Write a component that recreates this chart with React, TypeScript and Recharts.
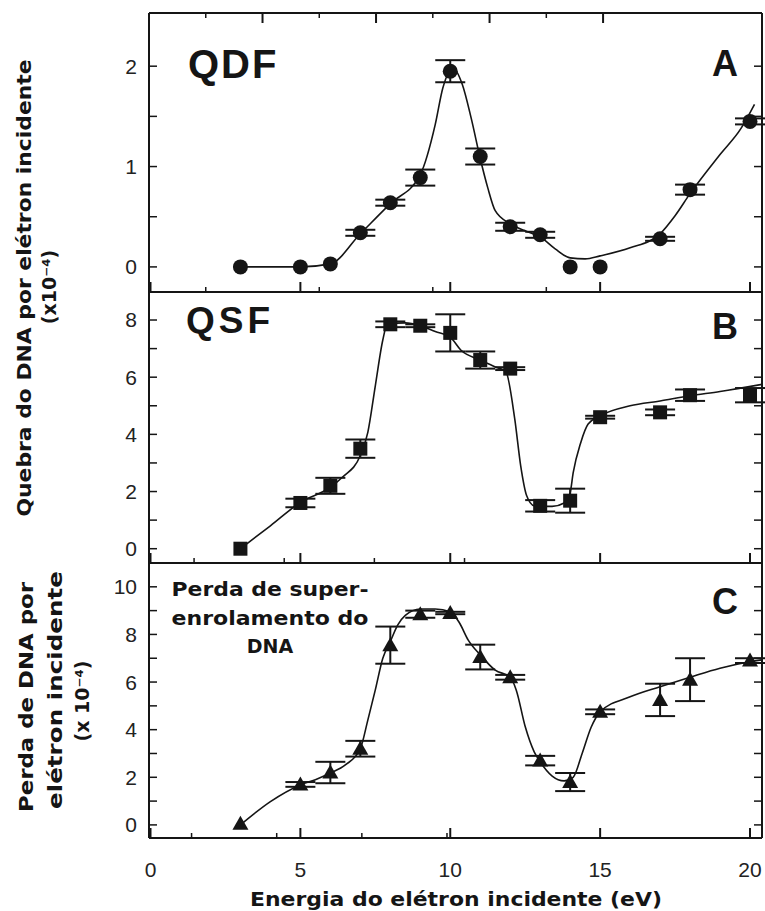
import React from "react";
import { ComposedChart, Line, Scatter, ErrorBar, XAxis, YAxis } from "recharts";

// Measured energies (eV) shared by the three panels
const ENERGY = [3, 5, 6, 7, 8, 9, 10, 11, 12, 13, 14, 15, 17, 18, 20];

// A: double strand breaks (x10^-4 per electron)
const QDF = [0, 0, 0.03, 0.34, 0.64, 0.89, 1.95, 1.1, 0.4, 0.32, 0, 0, 0.28, 0.77, 1.45];
const QDF_ERR = [0, 0, 0, 0.03, 0.03, 0.08, 0.11, 0.08, 0.04, 0.03, 0, 0, 0.02, 0.05, 0.03];

// B: single strand breaks
const QSF = [0, 1.6, 2.2, 3.5, 7.85, 7.8, 7.55, 6.6, 6.3, 1.5, 1.68, 4.6, 4.77, 5.37, 5.37];
const QSF_ERR = [0, 0.15, 0.28, 0.32, 0.1, 0.05, 0.65, 0.3, 0.05, 0.2, 0.42, 0.05, 0.1, 0.2, 0.25];

// C: loss of supercoiled DNA
const SUPER = [0.05, 1.7, 2.2, 3.2, 7.55, 8.85, 8.9, 7.05, 6.2, 2.7, 1.8, 4.75, 5.25, 6.1, 6.9];
const SUPER_ERR = [0, 0.1, 0.45, 0.33, 0.78, 0.15, 0.05, 0.52, 0.1, 0.2, 0.38, 0.1, 0.68, 0.9, 0.1];

// hand-drawn guide curves through each panel
const FIT_A_E = [3, 5, 6, 7, 8, 9, 9.5, 9.75, 10.1, 10.4, 10.7, 11, 11.25, 11.5, 12, 12.5, 13, 13.5, 14, 14.5, 15, 16, 17, 17.5, 18, 19, 19.7, 20.15];
const FIT_A = [0, 0, 0.03, 0.33, 0.63, 0.92, 1.42, 1.78, 1.98, 1.82, 1.48, 1.08, 0.79, 0.56, 0.43, 0.36, 0.3, 0.18, 0.09, 0.08, 0.11, 0.19, 0.33, 0.51, 0.73, 1.12, 1.38, 1.62];

const FIT_B_E = [3, 4, 5, 6, 6.4, 7, 7.25, 7.5, 7.75, 7.9, 8.5, 9, 9.5, 10, 10.35, 11, 11.5, 11.85, 12.15, 12.35, 12.55, 12.8, 13, 13.4, 13.8, 14, 14.1, 14.35, 14.6, 15, 16, 17, 18, 19, 20.4];
const FIT_B = [0, 0.8, 1.62, 2.15, 2.5, 3.26, 4.07, 5.7, 7.3, 7.85, 7.9, 7.8, 7.6, 7.4, 6.95, 6.6, 6.36, 6.2, 4.55, 2.9, 1.85, 1.5, 1.48, 1.48, 1.6, 1.96, 2.65, 3.7, 4.36, 4.65, 5.0, 5.17, 5.35, 5.5, 5.75];

const FIT_C_E = [3, 4, 5, 5.5, 6, 6.5, 7, 7.25, 7.5, 7.75, 8, 8.25, 8.5, 9, 9.5, 10, 10.3, 10.6, 11, 11.5, 12, 12.2, 12.5, 12.8, 13, 13.4, 13.8, 14.1, 14.4, 14.7, 15, 16, 17, 18, 19, 20, 20.4];
const FIT_C = [0, 0.98, 1.68, 1.9, 2.18, 2.52, 3.2, 4.4, 5.67, 7.0, 7.7, 8.4, 8.8, 9.07, 9.07, 8.95, 8.5, 7.76, 7.14, 6.5, 6.2, 5.67, 4.13, 3.07, 2.65, 2.05, 1.85, 2.0, 3.0, 4.1, 4.75, 5.38, 5.8, 6.2, 6.58, 6.85, 6.93];

const X_MAJOR = [0, 5, 10, 15, 20];
const X_MINOR = [2.5, 7.5, 12.5, 17.5];

const INK = "#151515";
const W = 765;
const H = 911;

const toRows = (xs: number[], ys: number[], errs?: number[]) =>
  xs.map((x, i) => ({ x, y: ys[i], err: errs ? errs[i] : 0 }));

const circle = (p: any) => <circle cx={p.cx} cy={p.cy} r={7.5} fill={INK} />;
const square = (p: any) => <rect x={p.cx - 7} y={p.cy - 7} width={14} height={14} fill={INK} />;
const triangle = (p: any) => (
  <path d={`M${p.cx - 8},${p.cy + 6} L${p.cx + 8},${p.cy + 6} L${p.cx},${p.cy - 8} Z`} fill={INK} />
);

const tickFont = { fill: "#222", fontSize: 21, fontFamily: "'Liberation Sans', Arial, sans-serif" };
const blank = () => "";

interface PanelProps {
  top: number;
  bottom: number;
  domain: [number, number];
  yTicks: number[];
  yLabels: number[];
  fit: { x: number; y: number }[];
  points: { x: number; y: number; err: number }[];
  marker: (p: any) => React.ReactElement;
  topAxis?: boolean;
  xLabels?: boolean;
}

// Each panel is its own full-page chart; margins place the plot box.
// Axes get a 1px thickness (zero-sized axes are skipped by recharts).
function Panel({ top, bottom, domain, yTicks, yLabels, fit, points, marker, topAxis, xLabels }: PanelProps) {
  const xDomain: [number, number] = [-0.05, 20.4];
  const axisStroke = { stroke: INK, strokeWidth: 2 };
  const minorStroke = { stroke: INK, strokeWidth: 1.5 };
  const margin = {
    top: topAxis ? top - 2 : top,
    right: 2,
    bottom: H - bottom - 2,
    left: 148,
  };
  return (
    <div style={{ position: "absolute", left: 0, top: 0 }}>
      <ComposedChart width={W} height={H} data={fit} margin={margin}>
        <XAxis
          xAxisId="x"
          type="number"
          dataKey="x"
          domain={xDomain}
          allowDataOverflow
          ticks={X_MAJOR}
          interval={0}
          height={1}
          tickSize={-10}
          tickMargin={34}
          axisLine={axisStroke}
          tickLine={axisStroke}
          tick={tickFont}
          tickFormatter={xLabels ? (v: number) => String(v) : blank}
        />
        <XAxis
          xAxisId="xm"
          type="number"
          domain={xDomain}
          allowDataOverflow
          ticks={X_MINOR}
          interval={0}
          height={1}
          tickSize={-6}
          axisLine={false}
          tickLine={minorStroke}
          tickFormatter={blank}
        />
        {topAxis && (
          <XAxis
            xAxisId="xt"
            orientation="top"
            type="number"
            domain={xDomain}
            allowDataOverflow
            ticks={X_MAJOR}
            interval={0}
            height={1}
            tickSize={-10}
            axisLine={axisStroke}
            tickLine={axisStroke}
            tickFormatter={blank}
          />
        )}
        {topAxis && (
          <XAxis
            xAxisId="xtm"
            orientation="top"
            type="number"
            domain={xDomain}
            allowDataOverflow
            ticks={X_MINOR}
            interval={0}
            height={1}
            tickSize={-6}
            axisLine={false}
            tickLine={minorStroke}
            tickFormatter={blank}
          />
        )}
        <YAxis
          yAxisId="y"
          type="number"
          domain={domain}
          allowDataOverflow
          ticks={yTicks}
          interval={0}
          width={1}
          tickSize={-8}
          tickMargin={20}
          axisLine={axisStroke}
          tickLine={minorStroke}
          tick={tickFont}
          tickFormatter={(v: number) => (yLabels.includes(v) ? String(v) : "")}
        />
        <YAxis
          yAxisId="yr"
          orientation="right"
          type="number"
          domain={domain}
          allowDataOverflow
          ticks={yTicks}
          interval={0}
          width={1}
          tickSize={-8}
          axisLine={axisStroke}
          tickLine={minorStroke}
          tickFormatter={blank}
        />
        <Line
          xAxisId="x"
          yAxisId="y"
          dataKey="y"
          type="monotone"
          stroke={INK}
          strokeWidth={1.6}
          dot={false}
          activeDot={false}
          isAnimationActive={false}
        />
        <Scatter xAxisId="x" yAxisId="y" data={points} dataKey="y" shape={marker} isAnimationActive={false}>
          <ErrorBar dataKey="err" direction="y" width={15} stroke={INK} strokeWidth={2} isAnimationActive={false} />
        </Scatter>
      </ComposedChart>
    </div>
  );
}

const boldSans = "'DejaVu Sans', Verdana, sans-serif";
const arialBold = "'Liberation Sans', Arial, sans-serif";

function Labels() {
  return (
    <svg width={W} height={H} style={{ position: "absolute", left: 0, top: 0, pointerEvents: "none" }}>
      <g fill={INK} fontWeight="bold">
        <text x={188} y={78} fontSize={40} fontFamily={arialBold} letterSpacing={2}>QDF</text>
        <text x={738} y={76} fontSize={36} fontFamily={arialBold} textAnchor="end">A</text>
        <text x={186} y={333} fontSize={37} fontFamily={arialBold} letterSpacing={4}>QSF</text>
        <text x={738} y={339} fontSize={36} fontFamily={arialBold} textAnchor="end">B</text>
        <text x={738} y={614} fontSize={36} fontFamily={arialBold} textAnchor="end">C</text>

        <g fontFamily={boldSans} fontSize={19} textAnchor="middle">
          <text x={270} y={596} textLength={197} lengthAdjust="spacingAndGlyphs">Perda de super-</text>
          <text x={270} y={625} textLength={197} lengthAdjust="spacingAndGlyphs">enrolamento do</text>
          <text x={270} y={653}>DNA</text>
        </g>

        <g fontFamily={boldSans} fontSize={19} textAnchor="middle">
          <text x={31} y={288} transform="rotate(-90 31 288)" textLength={457} lengthAdjust="spacingAndGlyphs">
            Quebra do DNA por elétron incidente
          </text>
          <text x={56} y={287} transform="rotate(-90 56 287)">(x10⁻⁴)</text>

          <text x={33} y={697} transform="rotate(-90 33 697)" textLength={230} lengthAdjust="spacingAndGlyphs">
            Perda de DNA por
          </text>
          <text x={62} y={690} transform="rotate(-90 62 690)" textLength={238} lengthAdjust="spacingAndGlyphs">
            elétron incidente
          </text>
          <text x={89} y={701} transform="rotate(-90 89 701)">(x 10⁻⁴)</text>

          <text x={456} y={906} fontSize={20} textLength={412} lengthAdjust="spacingAndGlyphs">
            Energia do elétron incidente (eV)
          </text>
        </g>
      </g>
    </svg>
  );
}

export default function App() {
  return (
    <div style={{ position: "absolute", left: 0, top: 0, width: W, height: H, background: "#fff" }}>
      <Panel
        top={13}
        bottom={292}
        domain={[-0.25, 2.53]}
        yTicks={[0, 0.5, 1, 1.5, 2]}
        yLabels={[0, 1, 2]}
        fit={toRows(FIT_A_E, FIT_A)}
        points={toRows(ENERGY, QDF, QDF_ERR)}
        marker={circle}
        topAxis
      />
      <Panel
        top={292}
        bottom={563}
        domain={[-0.5, 8.98]}
        yTicks={[0, 1, 2, 3, 4, 5, 6, 7, 8]}
        yLabels={[0, 2, 4, 6, 8]}
        fit={toRows(FIT_B_E, FIT_B)}
        points={toRows(ENERGY, QSF, QSF_ERR)}
        marker={square}
      />
      <Panel
        top={563}
        bottom={838}
        domain={[-0.55, 11.0]}
        yTicks={[0, 1, 2, 3, 4, 5, 6, 7, 8, 9, 10]}
        yLabels={[0, 2, 4, 6, 8, 10]}
        fit={toRows(FIT_C_E, FIT_C)}
        points={toRows(ENERGY, SUPER, SUPER_ERR)}
        marker={triangle}
        xLabels
      />
      <Labels />
    </div>
  );
}
